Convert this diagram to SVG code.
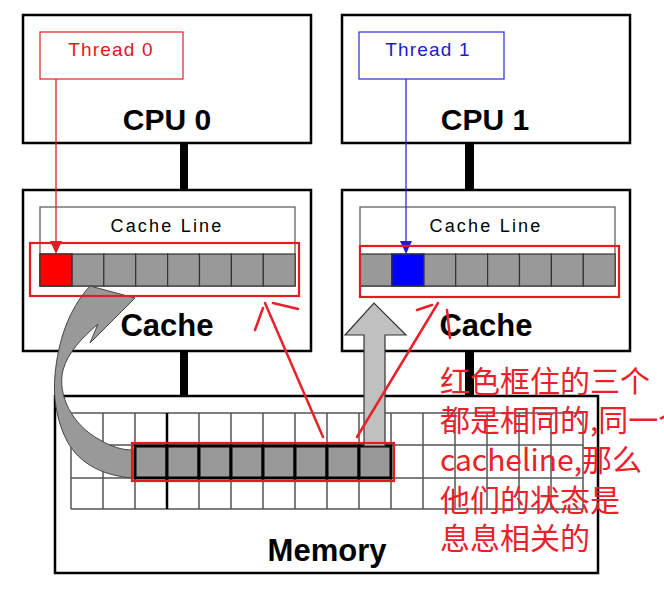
<svg xmlns="http://www.w3.org/2000/svg" width="664" height="597" viewBox="0 0 664 597">
<style>
.box{fill:#fff;stroke:#000;stroke-width:2.5}
.lbl{font-family:"Liberation Sans",Arial,sans-serif;font-weight:bold;fill:#000;text-anchor:middle}
.thr{font-family:"Liberation Sans",Arial,sans-serif;font-size:19px;letter-spacing:1.2px;text-anchor:middle}
.cl{font-family:"Liberation Sans",Arial,sans-serif;font-size:18px;letter-spacing:2.2px;text-anchor:middle;fill:#000}
.clbox{fill:#fff;stroke:#555;stroke-width:1.2}
.cell{fill:#999;stroke:#333;stroke-width:1.2}
.mcell{fill:#999;stroke:#000;stroke-width:3}
.grid{stroke:#555;stroke-width:1.5;fill:none}
.hl{fill:none;stroke:#e31b23;stroke-width:2.2}
.mark{stroke:#e8212b;stroke-width:2.5;fill:none;stroke-linecap:round}
.bar{fill:#000}
.note{font-family:"Noto Sans CJK SC","Noto Sans",sans-serif;font-size:30px;fill:#e8212b}
</style>
<defs>
<g id="cells8">
<rect class="cell" x="0" y="0" width="31.9" height="32"/>
<rect class="cell" x="31.9" y="0" width="31.9" height="32"/>
<rect class="cell" x="63.8" y="0" width="31.9" height="32"/>
<rect class="cell" x="95.7" y="0" width="31.9" height="32"/>
<rect class="cell" x="127.6" y="0" width="31.9" height="32"/>
<rect class="cell" x="159.5" y="0" width="31.9" height="32"/>
<rect class="cell" x="191.4" y="0" width="31.9" height="32"/>
<rect class="cell" x="223.3" y="0" width="31.9" height="32"/>
</g>
</defs>
<rect width="664" height="597" fill="#fff"/>

<g id="connectors">
<rect class="bar" x="180" y="143" width="8" height="48"/>
<rect class="bar" x="180" y="351" width="8" height="46"/>
<rect class="bar" x="465" y="143" width="9" height="48"/>
<rect class="bar" x="465" y="351" width="9" height="46"/>
</g>

<g id="cpu0">
<rect class="box" x="23" y="15" width="288" height="128"/>
<text class="lbl" x="167" y="130" font-size="30">CPU 0</text>
</g>
<g id="cpu1">
<rect class="box" x="342" y="15" width="288" height="128"/>
<text class="lbl" x="485" y="130" font-size="30">CPU 1</text>
</g>

<g id="thread0">
<rect x="40" y="32" width="143" height="47" fill="#fff" stroke="#e02020" stroke-width="1.2"/>
<text class="thr" x="111" y="56" fill="#e01818">Thread 0</text>
</g>
<g id="thread1">
<rect x="359" y="32" width="145" height="47" fill="#fff" stroke="#2a2ad0" stroke-width="1.2"/>
<text class="thr" x="428" y="56" fill="#1a1ad0">Thread 1</text>
</g>

<g id="cache0">
<rect class="box" x="23" y="190" width="288" height="161"/>
<rect class="clbox" x="40" y="207" width="255" height="79"/>
<text class="cl" x="167" y="232">Cache Line</text>
<use href="#cells8" x="40" y="254"/>
<rect x="40" y="254" width="31.9" height="32" fill="#ff0000" stroke="#333" stroke-width="1.2"/>
<text class="lbl" x="167" y="336" font-size="31">Cache</text>
</g>
<g id="cache1">
<rect class="box" x="342" y="190" width="288" height="161"/>
<rect class="clbox" x="360" y="207" width="255" height="79"/>
<text class="cl" x="486" y="232">Cache Line</text>
<use href="#cells8" x="360" y="254"/>
<rect x="391.9" y="254" width="31.9" height="32" fill="#0000ff" stroke="#333" stroke-width="1.2"/>
<text class="lbl" x="486" y="336" font-size="31">Cache</text>
</g>

<g id="memory">
<rect class="box" x="55" y="396" width="543" height="177"/>
<path class="grid" d="M71 413H583M71 445H583M71 478H583M71 509H583M71 413V509M103 413V509M135 413V509M199 413V509M231 413V509M263 413V509M295 413V509M327 413V509M359 413V509M391 413V509M423 413V509M455 413V509M487 413V509M519 413V509M551 413V509M583 413V509"/>
<path d="M167 413V509" stroke="#000" stroke-width="2.5"/>
<rect class="mcell" x="135" y="446" width="32" height="32"/>
<rect class="mcell" x="167" y="446" width="32" height="32"/>
<rect class="mcell" x="199" y="446" width="32" height="32"/>
<rect class="mcell" x="231" y="446" width="32" height="32"/>
<rect class="mcell" x="263" y="446" width="32" height="32"/>
<rect class="mcell" x="295" y="446" width="32" height="32"/>
<rect class="mcell" x="327" y="446" width="32" height="32"/>
<rect class="mcell" x="359" y="446" width="32" height="32"/>
<text class="lbl" x="327" y="561" font-size="31">Memory</text>
</g>

<g id="arrows">
<path d="M56 79V242" stroke="#e02020" stroke-width="1.3"/>
<path d="M50 241H62L56 254Z" fill="#e02020"/>
<path d="M406 79V242" stroke="#2a2ad0" stroke-width="1.3"/>
<path d="M400 241H412L406 254Z" fill="#1a1ae0"/>
<path d="M90 286 L135 298 L90 343 L98 324 C82 338 68 352 63 370 C57 395 72 425 100 440 C112 447 122 450 133 450 L133 478 C105 476 80 465 67 441 C56 420 53 395 55 375 C58 342 68 310 90 286 Z" fill="#999" stroke="#444" stroke-width="1"/>
<path d="M364 446 V335 H345 L374 303 L406 335 H385 V446 Z" fill="#c0c0c0" stroke="#333" stroke-width="1.2"/>
</g>

<g id="highlights">
<rect class="hl" x="30" y="243" width="269" height="53"/>
<rect class="hl" x="360" y="246" width="259" height="51"/>
<rect class="hl" x="132" y="443" width="262" height="38"/>
<path class="mark" d="M265 303L323 437M273 303L298 309M263 308L255 330M438 303L357 437M417 310L432 305M447 310L450 338"/>
</g>

<g id="note">
<text class="note" x="440" y="392">红色框住的三个</text>
<text class="note" x="440" y="431">都是相同的,同一个</text>
<text class="note" x="440" y="471">cacheline,那么</text>
<text class="note" x="440" y="511">他们的状态是</text>
<text class="note" x="440" y="549">息息相关的</text>
</g>
</svg>
